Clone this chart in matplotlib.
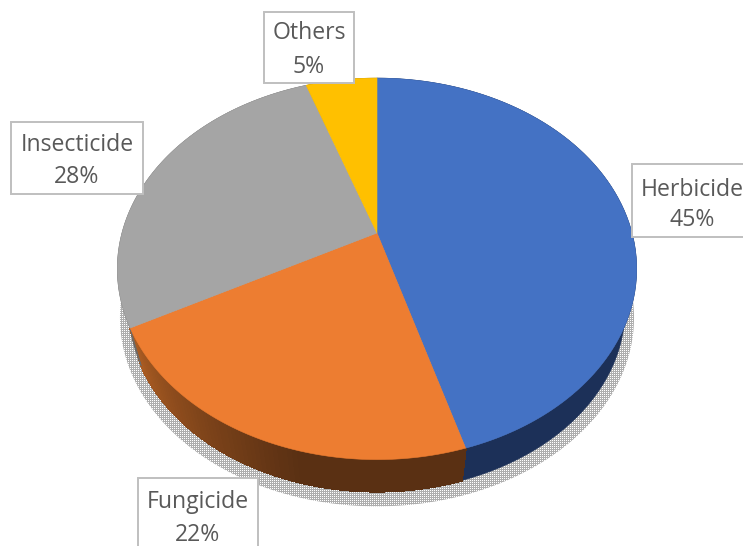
import numpy as np
import matplotlib
matplotlib.use('Agg')
import matplotlib.pyplot as plt
from matplotlib.colors import to_rgb
from matplotlib.patches import Polygon, Rectangle

categories = ['Herbicide', 'Fungicide', 'Insecticide', 'Others']
# labels are rounded, the slices read a little differently off the picture
shares = [45.4, 21.8, 27.5, 5.3]
share_labels = ['45%', '22%', '28%', '5%']
colors = ['#4472C4', '#ED7D31', '#A5A5A5', '#FFC000']
wall_dark = ['#1C3058', '#5A3013', '#6A6A6A', '#A07800']

plt.rcParams['font.family'] = ['Open Sans', 'DejaVu Sans']

fig = plt.figure(figsize=(7.43, 5.46), dpi=100)
ax = fig.add_axes([0, 0, 1, 1])
ax.set_xlim(0, 743)
ax.set_ylim(546, 0)
ax.axis('off')

# apex of the pie, in pixels
cx, cy = 377, 233


def rim(theta, scale=1.0, dy=0.0):
    # clockwise from 12 o'clock, tilted disc drawn in perspective
    X = np.sin(theta)
    Y = np.cos(theta)
    w = 1 + 0.188 * Y
    return np.column_stack([cx + scale * 255 * X / w, cy + dy - scale * 184 * Y / w])


edges = np.cumsum([0] + shares) / sum(shares) * 2 * np.pi

# stippled shadow
full = np.linspace(0, 2 * np.pi, 400)
shadow = Polygon(rim(full, 0.99, 49), closed=True, facecolor='none', edgecolor='none')
ax.add_patch(shadow)
yy, xx = np.mgrid[0:546, 0:743]
stipple = np.where((xx % 2 == 0) & (yy % 2 == 0), 1.0, 0.68)
img = ax.imshow(stipple, cmap='gray', vmin=0, vmax=1, extent=(0, 743, 546, 0),
                interpolation='none', zorder=1, aspect='auto')
img.set_clip_path(shadow)
ax.set_xlim(0, 743)
ax.set_ylim(546, 0)

# side wall, orange part gets a gradient
for i in range(len(shares)):
    th = np.linspace(edges[i], edges[i + 1], 80)
    top = rim(th)
    bottom = rim(th, 0.955, 42)
    if categories[i] == 'Fungicide':
        c0 = np.array(to_rgb('#A95B22'))
        c1 = np.array(to_rgb(wall_dark[i]))
        for j in range(len(th) - 1):
            quad = [top[j], top[j + 1], bottom[j + 1], bottom[j]]
            f = j / (len(th) - 2)
            # dark side reached about half way round
            col = c0 + (c1 - c0) * min(1, (1 - f) / 0.6)
            ax.add_patch(Polygon(quad, closed=True, facecolor=col, edgecolor=col, lw=1.0,
                                 antialiased=False, zorder=2))
    else:
        ax.add_patch(Polygon(np.vstack([top, bottom[::-1]]), closed=True, facecolor=wall_dark[i],
                             edgecolor=wall_dark[i], lw=0.5, zorder=2))

# top face
for i in range(len(shares)):
    th = np.linspace(edges[i], edges[i + 1], 120)
    pts = np.vstack([[cx, cy], rim(th)])
    ax.add_patch(Polygon(pts, closed=True, facecolor=colors[i], edgecolor=colors[i], lw=0.4, zorder=3))

# labels
boxes = {'Herbicide': (632, 164, 120, 73, 692, 190, 220),
         'Fungicide': (138, 478, 120, 80, 198, 502, 535),
         'Insecticide': (11, 122, 132, 72, 77, 145, 177),
         'Others': (264, 12, 90, 71, 309, 33, 67)}
for name, label in zip(categories, share_labels):
    x, y, w, h, tx, ty1, ty2 = boxes[name]
    ax.add_patch(Rectangle((x, y), w, h, facecolor='white', edgecolor='#BFBFBF', lw=1.4, zorder=4))
    ax.text(tx, ty1, name, ha='center', va='center', fontsize=16.6, color='#595959', zorder=5)
    ax.text(tx, ty2, label, ha='center', va='center', fontsize=16.6, color='#595959', zorder=5)

fig.savefig('out.png', dpi=100)
